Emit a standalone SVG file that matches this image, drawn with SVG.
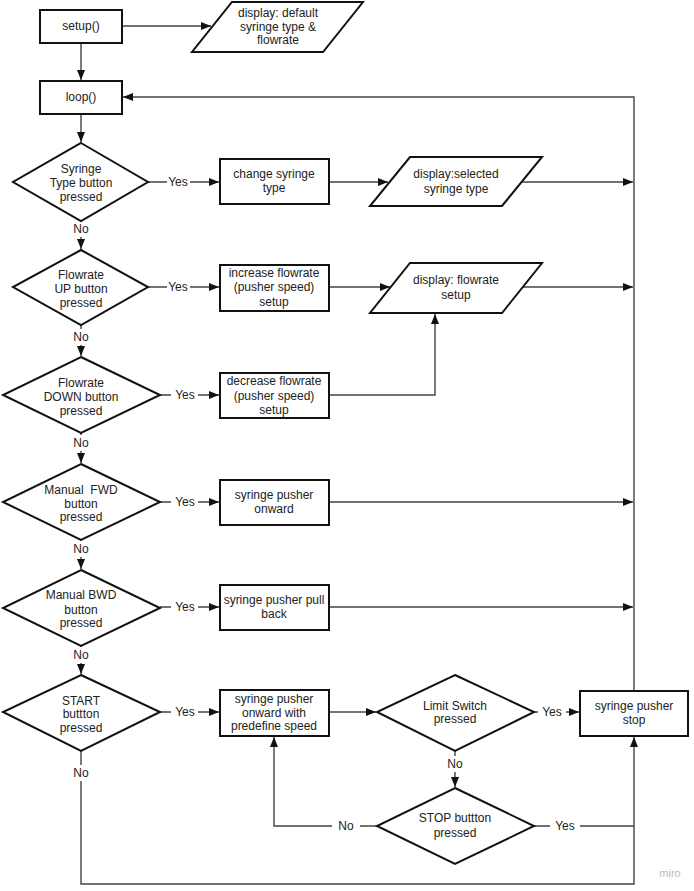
<svg xmlns="http://www.w3.org/2000/svg" width="694" height="891" viewBox="0 0 694 891">
<style>
.s{fill:#fff;stroke:#111;stroke-width:2}
.c{fill:none;stroke:#444;stroke-width:1.4}
text{font-family:"Liberation Sans",Arial,sans-serif;font-size:12px;fill:#222;text-anchor:middle;dominant-baseline:central}
.wm{fill:#bbb;font-size:11px}
</style>
<defs>
<marker id="a" viewBox="0 0 10 8" refX="10" refY="4" markerWidth="10" markerHeight="8" markerUnits="userSpaceOnUse" orient="auto">
<path d="M0,0 L10,4 L0,8 Z" fill="#111"/>
</marker>
</defs>
<rect width="694" height="891" fill="#fff"/>
<g id="connectors">
<path class="c" d="M122,26 H211" marker-end="url(#a)"/>
<path class="c" d="M81,43 V80" marker-end="url(#a)"/>
<path class="c" d="M634,691 V97 H123" marker-end="url(#a)"/>
<path class="c" d="M81,114 V142" marker-end="url(#a)"/>
<path class="c" d="M148,182 H167 M190,182 H219" marker-end="url(#a)"/>
<path class="c" d="M329,182 H388" marker-end="url(#a)"/>
<path class="c" d="M522,182 H633" marker-end="url(#a)"/>
<path class="c" d="M81,221 V222 M81,237 V249" marker-end="url(#a)"/>
<path class="c" d="M148,287 H167 M190,287 H219" marker-end="url(#a)"/>
<path class="c" d="M329,287 H390" marker-end="url(#a)"/>
<path class="c" d="M523,287 H633" marker-end="url(#a)"/>
<path class="c" d="M81,325 V329 M81,345 V356" marker-end="url(#a)"/>
<path class="c" d="M160,395 H171 M198,395 H219" marker-end="url(#a)"/>
<path class="c" d="M329,395 H435 V314" marker-end="url(#a)"/>
<path class="c" d="M81,433 V435 M81,451 V463" marker-end="url(#a)"/>
<path class="c" d="M160,502 H171 M198,502 H219" marker-end="url(#a)"/>
<path class="c" d="M329,502 H633" marker-end="url(#a)"/>
<path class="c" d="M81,540 V541 M81,557 V569" marker-end="url(#a)"/>
<path class="c" d="M160,607 H171 M198,607 H219" marker-end="url(#a)"/>
<path class="c" d="M329,607 H633" marker-end="url(#a)"/>
<path class="c" d="M81,646 V647 M81,663 V674" marker-end="url(#a)"/>
<path class="c" d="M160,712 H171 M198,712 H219" marker-end="url(#a)"/>
<path class="c" d="M329,712 H376" marker-end="url(#a)"/>
<path class="c" d="M534,712 H538 M566,712 H579" marker-end="url(#a)"/>
<path class="c" d="M455,751 V756 M455,772 V787" marker-end="url(#a)"/>
<path class="c" d="M377,826 H360 M332,826 H274 V737" marker-end="url(#a)"/>
<path class="c" d="M534,826 H550 M580,826 H634"/>
<path class="c" d="M81,751 V765 M81,781 V884 H634 V737" marker-end="url(#a)"/>
<text x="81" y="229">No</text>
<text x="81" y="337">No</text>
<text x="81" y="443">No</text>
<text x="81" y="549">No</text>
<text x="81" y="655">No</text>
<text x="81" y="773">No</text>
<text x="178" y="182">Yes</text>
<text x="178" y="287">Yes</text>
<text x="185" y="395">Yes</text>
<text x="185" y="502">Yes</text>
<text x="185" y="607">Yes</text>
<text x="185" y="712">Yes</text>
<text x="552" y="712">Yes</text>
<text x="455" y="764">No</text>
<text x="346" y="826">No</text>
<text x="565" y="826">Yes</text>
</g>
<g id="setup">
<rect class="s" x="40" y="10" width="82" height="33"/>
<text x="81" y="26">setup()</text>
</g>
<g id="display-default">
<polygon class="s" points="232,2 363,2 323,52 192,52"/>
<text x="278" y="13">display: default</text>
<text x="278" y="27">syringe type &amp;</text>
<text x="278" y="40">flowrate</text>
</g>
<g id="loop">
<rect class="s" x="40" y="81" width="82" height="33"/>
<text x="81" y="97">loop()</text>
</g>
<g id="d-syringe">
<polygon class="s" points="81,143 148,182 81,221 13,182"/>
<text x="81" y="169">Syringe</text>
<text x="81" y="183">Type button</text>
<text x="81" y="197">pressed</text>
</g>
<g id="change-syringe">
<rect class="s" x="220" y="159" width="109" height="45"/>
<text x="274" y="174">change syringe</text>
<text x="274" y="188">type</text>
</g>
<g id="display-selected">
<polygon class="s" points="410,157 542,157 502,206 370,206"/>
<text x="456" y="174">display:selected</text>
<text x="456" y="189">syringe type</text>
</g>
<g id="d-up">
<polygon class="s" points="81,250 148,287 81,325 13,287"/>
<text x="81" y="275">Flowrate</text>
<text x="81" y="289">UP button</text>
<text x="81" y="303">pressed</text>
</g>
<g id="increase">
<rect class="s" x="220" y="265" width="109" height="46"/>
<text x="274" y="273">increase flowrate</text>
<text x="274" y="287">(pusher speed)</text>
<text x="274" y="302">setup</text>
</g>
<g id="display-flowrate">
<polygon class="s" points="410,263 542,263 502,313 370,313"/>
<text x="456" y="280">display: flowrate</text>
<text x="456" y="295">setup</text>
</g>
<g id="d-down">
<polygon class="s" points="81,357 160,395 81,433 3,395"/>
<text x="81" y="383">Flowrate</text>
<text x="81" y="397">DOWN button</text>
<text x="81" y="411">pressed</text>
</g>
<g id="decrease">
<rect class="s" x="220" y="373" width="109" height="45"/>
<text x="274" y="381">decrease flowrate</text>
<text x="274" y="396">(pusher speed)</text>
<text x="274" y="410">setup</text>
</g>
<g id="d-fwd">
<polygon class="s" points="81,464 160,502 81,540 3,502"/>
<text x="81" y="490">Manual&#160; FWD</text>
<text x="81" y="504">button</text>
<text x="81" y="517">pressed</text>
</g>
<g id="onward">
<rect class="s" x="220" y="480" width="109" height="45"/>
<text x="274" y="495">syringe pusher</text>
<text x="274" y="509">onward</text>
</g>
<g id="d-bwd">
<polygon class="s" points="81,570 160,608 81,646 3,608"/>
<text x="81" y="595">Manual BWD</text>
<text x="81" y="610">button</text>
<text x="81" y="623">pressed</text>
</g>
<g id="pullback">
<rect class="s" x="220" y="585" width="109" height="45"/>
<text x="274" y="600">syringe pusher pull</text>
<text x="274" y="614">back</text>
</g>
<g id="d-start">
<polygon class="s" points="81,675 160,712 81,751 3,712"/>
<text x="81" y="701">START</text>
<text x="81" y="714">buttton</text>
<text x="81" y="728">pressed</text>
</g>
<g id="onward-speed">
<rect class="s" x="220" y="690" width="109" height="46"/>
<text x="274" y="699">syringe pusher</text>
<text x="274" y="713">onward with</text>
<text x="274" y="726">predefine speed</text>
</g>
<g id="d-limit">
<polygon class="s" points="455,675 534,712 455,751 377,712"/>
<text x="455" y="706">Limit Switch</text>
<text x="455" y="719">pressed</text>
</g>
<g id="stop">
<rect class="s" x="580" y="691" width="108" height="45"/>
<text x="634" y="706">syringe pusher</text>
<text x="634" y="720">stop</text>
</g>
<g id="d-stop">
<polygon class="s" points="455,788 534,826 455,864 377,826"/>
<text x="455" y="818">STOP buttton</text>
<text x="455" y="833">pressed</text>
</g>
<text class="wm" x="670" y="873">miro</text>
</svg>
